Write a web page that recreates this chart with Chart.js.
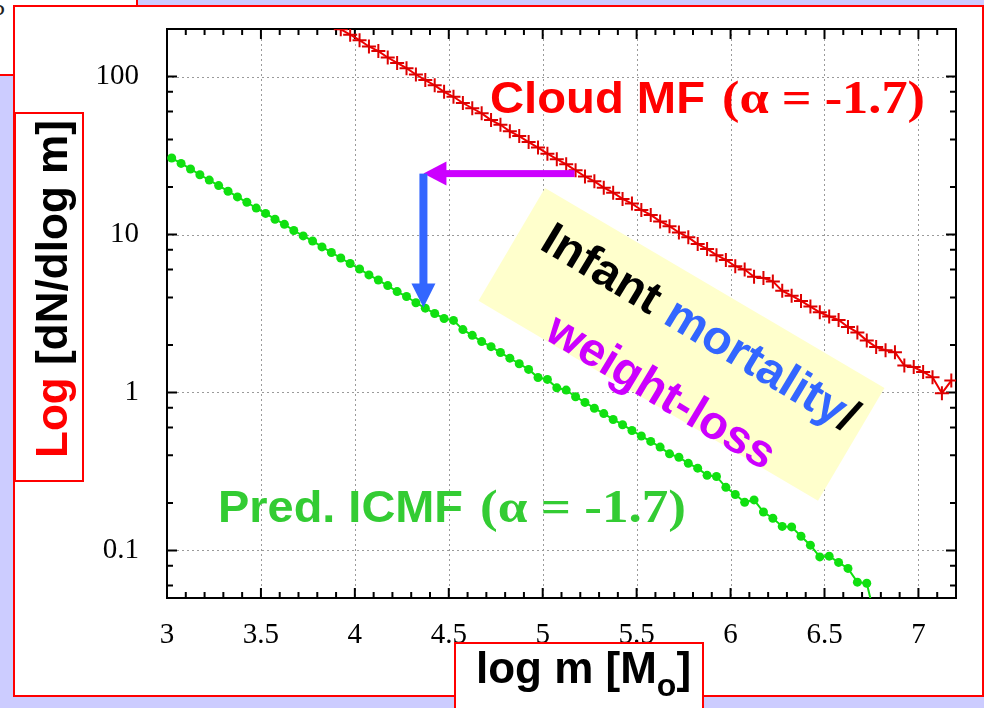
<!DOCTYPE html>
<html>
<head>
<meta charset="utf-8">
<script src="https://cdn.jsdelivr.net/npm/chart.js@4.4.1/dist/chart.umd.min.js"></script>
<style>
  html, body { margin: 0; padding: 0; }
  body { width: 984px; height: 708px; overflow: hidden; background: #ccccff; position: relative; }
  .box { position: absolute; background: #fff; border: 2px solid #ff0000; box-sizing: border-box; }
  #panel { left: 13px; top: 5px; width: 971px; height: 692px; }
  #corner { left: -4px; top: -4px; width: 142px; height: 80px; }
  #corner span { position: absolute; left: -6px; top: -6px; font: 26px 'Liberation Serif'; color: #222; }
  #wrap { position: absolute; left: 0; top: 0; width: 984px; height: 708px; }
  #ylab { left: 14px; top: 112px; width: 70px; height: 370px; }
  #xlab { left: 454px; top: 642px; width: 250px; height: 90px; }
  svg { position: absolute; left: 0; top: 0; }
</style>
</head>
<body>
<div class="box" id="corner"><span>5</span></div>
<div class="box" id="panel"></div>
<div id="wrap"><canvas id="myChart" width="984" height="708"></canvas></div>
<div class="box" id="ylab"></div>
<div class="box" id="xlab"></div>
<svg width="984" height="708" xmlns="http://www.w3.org/2000/svg">
  <rect x="0" y="0" width="394" height="131" fill="#ffffcc" transform="translate(545,188) rotate(30.5)"/>
  <text font-family="Liberation Sans" font-weight="bold" font-size="47" transform="translate(538,248) rotate(31)" textLength="360" lengthAdjust="spacingAndGlyphs"><tspan fill="#000">Infant </tspan><tspan fill="#3366ff">mortality</tspan><tspan fill="#000">/</tspan></text>
  <text font-family="Liberation Sans" font-weight="bold" font-size="47" fill="#cc00ff" transform="translate(543,338) rotate(31)" textLength="258" lengthAdjust="spacingAndGlyphs">weight-loss</text>
  <text x="490" y="113" font-family="Liberation Sans" font-weight="bold" font-size="44" fill="#ff0000" textLength="215" lengthAdjust="spacingAndGlyphs">Cloud MF</text>
  <text x="722" y="113" font-family="Liberation Serif" font-weight="bold" font-size="46" fill="#ff0000" textLength="203" lengthAdjust="spacingAndGlyphs">(α = -1.7)</text>
  <text x="218" y="522" font-family="Liberation Sans" font-weight="bold" font-size="44" fill="#33cc33" textLength="245" lengthAdjust="spacingAndGlyphs">Pred. ICMF</text>
  <text x="480" y="522" font-family="Liberation Serif" font-weight="bold" font-size="46" fill="#33cc33" textLength="206" lengthAdjust="spacingAndGlyphs">(α = -1.7)</text>
  <text font-family="Liberation Sans" font-weight="bold" font-size="44" transform="translate(67,458) rotate(-90)" textLength="338" lengthAdjust="spacingAndGlyphs"><tspan fill="#ff0000">Log</tspan><tspan fill="#000"> [dN/dlog m]</tspan></text>
  <text x="476" y="683" font-family="Liberation Sans" font-weight="bold" font-size="44" fill="#000">log m [M<tspan font-size="32" dy="13">o</tspan><tspan dy="-13">]</tspan></text>
</svg>
<script>
// log m of each bin centre, and dN/dlog m
const cloudMass = [3.925, 3.975, 4.025, 4.075, 4.125, 4.175, 4.225, 4.275, 4.325, 4.375,
  4.425, 4.475, 4.525, 4.575, 4.625, 4.675, 4.725, 4.775, 4.825, 4.875,
  4.925, 4.975, 5.025, 5.075, 5.125, 5.175, 5.225, 5.275, 5.325, 5.375,
  5.425, 5.475, 5.525, 5.575, 5.625, 5.675, 5.725, 5.775, 5.825, 5.875,
  5.925, 5.975, 6.025, 6.075, 6.125, 6.175, 6.225, 6.275, 6.325, 6.375,
  6.425, 6.475, 6.525, 6.575, 6.625, 6.675, 6.725, 6.775, 6.825, 6.875,
  6.925, 6.975, 7.025, 7.075, 7.125, 7.175];
const cloudCount = [199, 184, 170, 155, 145, 132, 122, 113, 103, 95,
  88, 80, 74.5, 68, 63, 58.5, 53, 49.5, 45, 42,
  38.5, 35.5, 32.5, 30, 27.8, 25.5, 23.3, 21.7, 19.8, 18.4,
  16.8, 15.7, 14.3, 13.3, 12.1, 11.3, 10.3, 9.6, 8.7, 8.1,
  7.4, 6.9, 6.3, 6.0, 5.4, 5.3, 5.05, 4.4, 4.1, 3.8,
  3.5, 3.22, 3.03, 2.88, 2.6, 2.4, 2.13, 1.94, 1.85, 1.8,
  1.48, 1.45, 1.35, 1.25, 0.99, 1.19];

const icmfMass = [3.025, 3.075, 3.125, 3.175, 3.225, 3.275, 3.325, 3.375, 3.425, 3.475,
  3.525, 3.575, 3.625, 3.675, 3.725, 3.775, 3.825, 3.875, 3.925, 3.975,
  4.025, 4.075, 4.125, 4.175, 4.225, 4.275, 4.325, 4.375, 4.425, 4.475,
  4.525, 4.575, 4.625, 4.675, 4.725, 4.775, 4.825, 4.875, 4.925, 4.975,
  5.025, 5.075, 5.125, 5.175, 5.225, 5.275, 5.325, 5.375, 5.425, 5.475,
  5.525, 5.575, 5.625, 5.675, 5.725, 5.775, 5.825, 5.875, 5.925, 5.975,
  6.025, 6.075, 6.125, 6.175, 6.225, 6.275, 6.325, 6.375, 6.425, 6.475,
  6.525, 6.575, 6.625, 6.675, 6.725, 6.775];
const icmfCount = [30.5, 28.2, 26.0, 23.9, 22.1, 20.4, 18.8, 17.3, 16.0, 14.7,
  13.6, 12.5, 11.6, 10.6, 9.8, 9.1, 8.35, 7.7, 7.1, 6.55,
  6.05, 5.55, 5.15, 4.75, 4.35, 4.05, 3.7, 3.42, 3.16, 2.94,
  2.86, 2.5, 2.3, 2.1, 1.95, 1.79, 1.65, 1.52, 1.40, 1.245,
  1.21, 1.07, 1.035, 0.94, 0.865, 0.795, 0.735, 0.675, 0.625, 0.575,
  0.53, 0.49, 0.451, 0.409, 0.389, 0.356, 0.332, 0.299, 0.294, 0.251,
  0.226, 0.202, 0.209, 0.175, 0.160, 0.142, 0.141, 0.123, 0.108, 0.091,
  0.092, 0.084, 0.077, 0.063, 0.062, 0.035];

const xTickLabels = ['3', '3.5', '4', '4.5', '5', '5.5', '6', '6.5', '7'];
const yTickLabels = ['0.1', '1', '10', '100'];

// arrow annotation anchors (data units)
const arrowStart = [5.17, 24.3];
const arrowCorner = [4.365, 24.3];
const arrowEnd = [4.365, 3.45];

const toPoints = (xs, ys) => xs.map((v, i) => ({ x: v, y: ys[i] }));

const frame = {
  id: 'frame',
  beforeDatasetsDraw(chart) {
    const { ctx, chartArea: a, scales: { x, y } } = chart;
    ctx.save();
    // dotted grid
    ctx.strokeStyle = '#9a9a9a';
    ctx.lineWidth = 1;
    ctx.setLineDash([2, 3]);
    ctx.beginPath();
    xTickLabels.forEach(l => {
      const px = Math.round(x.getPixelForValue(+l)) + 0.5;
      if (px > a.left + 3 && px < a.right - 3) { ctx.moveTo(px, a.top); ctx.lineTo(px, a.bottom); }
    });
    yTickLabels.forEach(l => {
      const py = Math.round(y.getPixelForValue(+l)) + 0.5;
      ctx.moveTo(a.left, py); ctx.lineTo(a.right, py);
    });
    ctx.stroke();
    ctx.setLineDash([]);
    // inward ticks on all four sides
    ctx.strokeStyle = '#000';
    ctx.lineWidth = 2;
    ctx.beginPath();
    for (let i = 0; i <= 42; i++) {
      const px = x.getPixelForValue(3 + i / 10);
      const len = (i % 5 === 0) ? 10 : 6;
      ctx.moveTo(px, a.bottom); ctx.lineTo(px, a.bottom - len);
      ctx.moveTo(px, a.top); ctx.lineTo(px, a.top + len);
    }
    [0.01, 0.1, 1, 10, 100].forEach(d => {
      [1, 2, 4, 6, 8].forEach(m => {
        const v = d * m;
        if (v < y.min || v > y.max) return;
        const py = y.getPixelForValue(v);
        const len = m === 1 ? 10 : 6;
        ctx.moveTo(a.left, py); ctx.lineTo(a.left + len, py);
        ctx.moveTo(a.right, py); ctx.lineTo(a.right - len, py);
      });
    });
    ctx.stroke();
    ctx.strokeRect(a.left, a.top, a.right - a.left, a.bottom - a.top);
    ctx.restore();
  }
};

const arrows = {
  id: 'arrows',
  afterDatasetsDraw(chart) {
    const { ctx, scales: { x, y } } = chart;
    const x0 = x.getPixelForValue(arrowStart[0]);
    const xc = x.getPixelForValue(arrowCorner[0]);
    const yc = y.getPixelForValue(arrowCorner[1]);
    const yt = y.getPixelForValue(arrowEnd[1]);
    ctx.save();
    ctx.fillStyle = '#cc00ff';
    ctx.fillRect(xc + 20, yc - 3.5, x0 - xc - 20, 7);
    ctx.beginPath();
    ctx.moveTo(xc, yc); ctx.lineTo(xc + 23, yc - 12); ctx.lineTo(xc + 23, yc + 12); ctx.closePath();
    ctx.fill();
    ctx.fillStyle = '#3366ff';
    ctx.fillRect(xc - 4, yc, 8, yt - yc - 20);
    ctx.beginPath();
    ctx.moveTo(xc, yt); ctx.lineTo(xc - 12, yt - 24); ctx.lineTo(xc + 12, yt - 24); ctx.closePath();
    ctx.fill();
    ctx.restore();
  }
};

const ctx = document.getElementById('myChart');
new Chart(ctx, {
  type: 'scatter',
  data: {
    datasets: [
      {
        label: 'Cloud MF',
        data: toPoints(cloudMass, cloudCount),
        showLine: true,
        borderColor: '#ee0000',
        borderWidth: 2,
        pointStyle: 'cross',
        pointRadius: 7,
        pointBorderWidth: 2,
        pointBorderColor: '#dd0000',
        pointBackgroundColor: '#dd0000'
      },
      {
        label: 'Pred. ICMF',
        data: toPoints(icmfMass, icmfCount),
        showLine: true,
        borderColor: '#10e010',
        borderWidth: 2,
        pointStyle: 'circle',
        pointRadius: 4.5,
        pointBorderWidth: 0,
        pointBackgroundColor: '#10e010'
      }
    ]
  },
  options: {
    responsive: false,
    animation: false,
    events: [],
    layout: { padding: { left: 0, top: 29, right: 28, bottom: 0 } },
    plugins: { legend: { display: false }, tooltip: { enabled: false } },
    scales: {
      x: {
        type: 'linear',
        min: 3,
        max: 7.2,
        afterBuildTicks: s => { s.ticks = xTickLabels.map(l => ({ value: +l })); },
        afterFit: s => { s.height = 110; s.paddingLeft = 0; s.paddingRight = 0; },
        grid: { display: false },
        border: { display: false },
        ticks: {
          autoSkip: false,
          maxRotation: 0,
          padding: 12,
          color: '#000',
          font: { family: 'Liberation Serif', size: 29 },
          callback: (v, i) => xTickLabels[i]
        }
      },
      y: {
        type: 'logarithmic',
        min: 0.05,
        max: 200,
        afterBuildTicks: s => { s.ticks = yTickLabels.map(l => ({ value: +l })); },
        afterFit: s => { s.width = 167; s.paddingTop = 0; s.paddingBottom = 0; },
        grid: { display: false },
        border: { display: false },
        ticks: {
          autoSkip: false,
          padding: 20,
          color: '#000',
          font: { family: 'Liberation Serif', size: 29 },
          callback: (v, i) => yTickLabels[i]
        }
      }
    }
  },
  plugins: [frame, arrows]
});
</script>
</body>
</html>
